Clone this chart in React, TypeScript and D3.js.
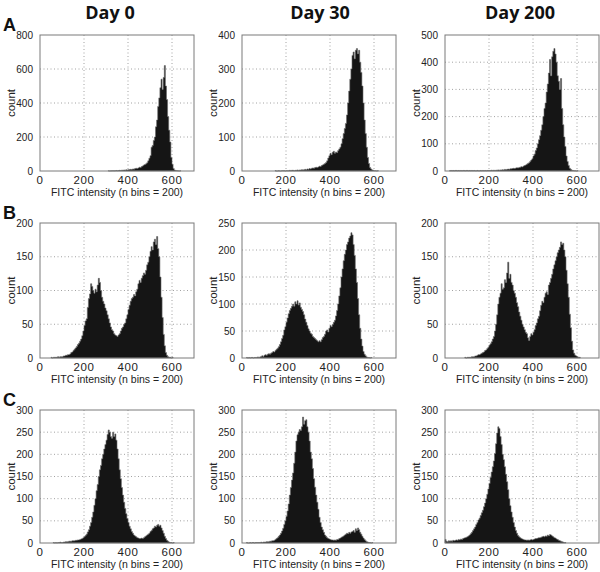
import React, { useEffect, useRef } from "react";
import * as d3 from "d3";

// column titles and row letters
const days = ["Day 0", "Day 30", "Day 200"];
const rowLetters = ["A", "B", "C"];
const xTicks = [0, 200, 400, 600];
const binWidth = 5;

// y axis maxima / tick step, per panel (row-major)
const yMax = [800, 400, 500, 200, 250, 200, 300, 300, 300];
const yStep = [200, 100, 100, 50, 50, 50, 50, 50, 50];

// histogram counts, 5-unit bins starting at *Start
const a0Start = 310;
const a0Counts = [1, 0, 1, 1, 2, 1, 2, 3, 2, 3, 4, 3, 5, 4, 6, 5, 7, 6, 8, 9,
  10, 9, 12, 11, 14, 16, 15, 18, 22, 20, 26, 30, 35, 38, 42, 48, 60, 75, 90, 140,
  150, 180, 200, 260, 300, 380, 430, 490, 540, 480, 550, 620, 500, 420, 320, 240, 170, 80, 40, 15,
  6, 3, 2, 1, 0, 1];

const a30Start = 150;
const a30Counts = [1, 0, 0, 1, 0, 0, 1, 1, 1, 0, 1, 1, 1, 2, 1, 2, 2, 1, 2, 2,
  3, 2, 3, 3, 4, 3, 4, 5, 4, 6, 5, 7, 6, 8, 9, 8, 10, 11, 10, 12,
  14, 13, 16, 18, 20, 22, 25, 30, 38, 45, 52, 48, 55, 58, 52, 56, 54, 60, 65, 70,
  80, 95, 110, 125, 140, 165, 200, 235, 270, 300, 340, 350, 330, 355, 360, 345, 355, 320, 290, 250,
  200, 150, 110, 70, 40, 22, 10, 6, 3, 2, 1, 1, 0, 1];

const a200Start = 20;
const a200Counts = [1, 2, 1, 2, 1, 2, 2, 1, 2, 1, 2, 1, 2, 2, 1, 2, 2, 1, 2, 1,
  2, 1, 2, 1, 1, 2, 1, 1, 2, 1, 2, 1, 2, 1, 2, 2, 2, 2, 3, 2,
  3, 2, 3, 3, 4, 3, 4, 4, 5, 4, 6, 5, 6, 7, 6, 8, 8, 9, 10, 9,
  11, 12, 11, 13, 14, 16, 15, 18, 20, 22, 25, 28, 30, 35, 40, 45, 55, 62, 75, 85,
  100, 115, 130, 150, 170, 200, 230, 250, 290, 320, 360, 410, 350, 420, 440, 450, 430, 400, 350, 330,
  300, 340, 230, 170, 125, 90, 55, 35, 20, 10, 6, 3, 2, 1, 1, 0, 1];

const b0Start = 50;
const b0Counts = [1, 0, 1, 1, 1, 1, 2, 1, 2, 2, 2, 3, 3, 4, 4, 5, 5, 6, 8, 9,
  11, 13, 15, 17, 20, 22, 25, 28, 33, 40, 48, 55, 58, 75, 88, 95, 110, 106, 100, 96,
  102, 98, 108, 118, 112, 100, 90, 84, 80, 74, 70, 64, 58, 52, 46, 42, 40, 36, 34, 33,
  32, 34, 36, 40, 44, 46, 50, 52, 58, 64, 72, 78, 84, 88, 90, 94, 92, 98, 102, 110,
  115, 112, 118, 122, 126, 124, 130, 138, 142, 150, 158, 165, 160, 172, 176, 168, 180, 162, 150, 120,
  90, 60, 35, 18, 8, 4, 2, 1, 1, 0, 1];

const b30Start = 20;
const b30Counts = [1, 0, 1, 0, 1, 1, 0, 1, 1, 1, 2, 1, 2, 3, 4, 3, 5, 6, 5, 7,
  8, 7, 9, 10, 12, 11, 14, 16, 18, 21, 25, 30, 36, 42, 52, 58, 66, 74, 82, 88,
  92, 96, 100, 96, 104, 100, 106, 98, 102, 94, 90, 86, 80, 72, 66, 60, 54, 50, 46, 44,
  40, 38, 36, 34, 32, 30, 32, 30, 34, 38, 40, 44, 50, 52, 48, 55, 60, 58, 62, 66,
  70, 78, 88, 100, 115, 130, 150, 165, 180, 192, 200, 210, 215, 222, 226, 232, 228, 210, 190, 165,
  140, 110, 80, 55, 35, 22, 12, 7, 4, 2, 1, 1, 0, 1];

const b200Start = 90;
const b200Counts = [1, 0, 1, 1, 1, 1, 2, 2, 2, 3, 3, 4, 5, 5, 6, 7, 8, 9, 11, 12,
  14, 16, 19, 21, 24, 28, 32, 40, 50, 64, 80, 90, 96, 110, 102, 104, 116, 112, 126, 142,
  118, 124, 112, 108, 100, 96, 90, 82, 76, 68, 62, 56, 50, 46, 42, 38, 36, 30, 26, 32,
  36, 34, 38, 42, 48, 52, 58, 62, 70, 78, 84, 82, 90, 96, 98, 94, 108, 112, 118, 124,
  132, 138, 144, 150, 156, 160, 164, 172, 168, 170, 160, 150, 130, 110, 90, 65, 45, 25, 12, 7,
  4, 3, 2, 1, 1];

const c0Start = 60;
const c0Counts = [1, 0, 1, 0, 1, 1, 2, 1, 1, 2, 2, 3, 3, 3, 4, 4, 4, 5, 5, 5,
  6, 6, 7, 7, 8, 9, 10, 12, 14, 17, 20, 25, 30, 38, 46, 58, 70, 85, 100, 118,
  132, 150, 165, 175, 190, 200, 212, 222, 232, 245, 255, 250, 240, 236, 250, 240, 246, 232, 212, 190,
  165, 145, 125, 108, 92, 78, 66, 55, 46, 38, 32, 26, 22, 18, 16, 14, 12, 11, 10, 10,
  11, 10, 12, 14, 16, 18, 20, 22, 26, 28, 32, 34, 38, 36, 40, 42, 38, 40, 34, 28,
  22, 15, 10, 6, 4, 2, 1, 1, 0, 1];

const c30Start = 20;
const c30Counts = [1, 0, 0, 1, 0, 1, 1, 0, 1, 1, 1, 1, 1, 2, 1, 2, 2, 2, 3, 3,
  3, 4, 4, 5, 5, 6, 8, 10, 12, 15, 18, 22, 27, 33, 42, 50, 60, 72, 88, 108,
  125, 142, 158, 180, 205, 230, 244, 250, 256, 254, 262, 284, 268, 276, 278, 262, 250, 230, 205, 190,
  168, 145, 126, 108, 92, 76, 58, 46, 36, 30, 24, 18, 15, 12, 10, 9, 8, 7, 7, 6,
  7, 6, 8, 8, 10, 11, 13, 14, 16, 18, 20, 22, 21, 24, 22, 25, 26, 28, 24, 32,
  28, 34, 30, 24, 20, 15, 11, 8, 5, 3, 2, 1, 1, 0, 1];

const c200Start = 0;
const c200Counts = [8, 4, 3, 5, 4, 5, 4, 6, 5, 6, 7, 6, 8, 7, 9, 8, 10, 11, 12, 13,
  14, 16, 18, 21, 24, 28, 32, 36, 42, 46, 52, 56, 62, 68, 74, 82, 90, 100, 110, 122,
  134, 148, 160, 172, 185, 202, 224, 248, 262, 258, 240, 222, 200, 188, 172, 155, 138, 120, 100, 84,
  70, 58, 46, 36, 28, 22, 17, 14, 12, 10, 9, 8, 7, 7, 6, 7, 6, 7, 8, 7,
  8, 9, 10, 10, 11, 12, 12, 13, 14, 15, 14, 16, 15, 18, 16, 19, 18, 16, 14, 12,
  11, 9, 8, 6, 5, 4, 3, 2, 1, 1];

const starts = [a0Start, a30Start, a200Start, b0Start, b30Start, b200Start, c0Start, c30Start, c200Start];
const counts = [a0Counts, a30Counts, a200Counts, b0Counts, b30Counts, b200Counts, c0Counts, c30Counts, c200Counts];

const W = 600;
const H = 572;
const colLeft = [40, 242, 445];
const plotW = 154;
const rowTop = [35, 223, 410];
const rowBottom = [171, 358, 543];
const font = "'Liberation Sans', Arial, sans-serif";

function drawChart(svgEl: SVGSVGElement) {
  const svg = d3.select(svgEl);
  svg.selectAll("*").remove();
  svg.attr("width", W).attr("height", H);

  // column titles
  days.forEach((d, i) => {
    svg.append("text")
      .attr("x", [110, 320, 520][i])
      .attr("y", 19)
      .attr("text-anchor", "middle")
      .attr("font-family", "'Open Sans', sans-serif")
      .attr("font-weight", 700)
      .attr("font-size", 18)
      .attr("fill", "#111")
      .text(d);
  });

  // row letters
  rowLetters.forEach((l, r) => {
    svg.append("text")
      .attr("x", 3)
      .attr("y", rowTop[r] - 4)
      .attr("font-family", font)
      .attr("font-weight", 700)
      .attr("font-size", 18)
      .attr("fill", "#111")
      .text(l);
  });

  for (let r = 0; r < 3; r++) {
    for (let c = 0; c < 3; c++) {
      const k = r * 3 + c;
      const left = colLeft[c];
      const top = rowTop[r];
      const bottom = rowBottom[r];

      const x = d3.scaleLinear().domain([0, 700]).range([left, left + plotW]);
      const y = d3.scaleLinear().domain([0, yMax[k]]).range([bottom, top]);
      const yTicks = d3.range(0, yMax[k] + 1, yStep[k]);

      const g = svg.append("g");

      // dotted grid
      g.selectAll(".gx")
        .data(xTicks.filter(t => t > 0))
        .join("line")
        .attr("x1", d => x(d)).attr("x2", d => x(d))
        .attr("y1", top).attr("y2", bottom)
        .attr("stroke", "#8a8a8a")
        .attr("stroke-width", 0.8)
        .attr("stroke-dasharray", "1,2.5");
      g.selectAll(".gy")
        .data(yTicks.filter(t => t > 0 && t < yMax[k]))
        .join("line")
        .attr("x1", left).attr("x2", left + plotW)
        .attr("y1", d => y(d)).attr("y2", d => y(d))
        .attr("stroke", "#8a8a8a")
        .attr("stroke-width", 0.8)
        .attr("stroke-dasharray", "1,2.5");

      // histogram as a stepped area
      const pts = counts[k].map((v, i) => ({ x: starts[k] + i * binWidth, y: v }));
      pts.push({ x: starts[k] + counts[k].length * binWidth, y: 0 });
      const area = d3.area<{ x: number; y: number }>()
        .x(d => x(d.x))
        .y0(bottom)
        .y1(d => y(d.y))
        .curve(d3.curveStepAfter);
      g.append("path")
        .datum(pts)
        .attr("d", area)
        .attr("fill", "#151515")
        .attr("stroke", "#6a6a6a")
        .attr("stroke-width", 0.6);

      // box
      g.append("rect")
        .attr("x", left).attr("y", top)
        .attr("width", plotW).attr("height", bottom - top)
        .attr("fill", "none")
        .attr("stroke", "#7a7a7a")
        .attr("stroke-width", 1);

      // y tick labels
      g.selectAll(".yl")
        .data(yTicks)
        .join("text")
        .attr("x", left - 7)
        .attr("y", d => y(d))
        .attr("dy", "0.35em")
        .attr("text-anchor", "end")
        .attr("font-family", font)
        .attr("font-size", 10)
        .attr("fill", "#222")
        .text(d => d);

      // x tick labels
      g.selectAll(".xl")
        .data(xTicks)
        .join("text")
        .attr("x", d => x(d))
        .attr("y", bottom + 13)
        .attr("text-anchor", "middle")
        .attr("font-family", font)
        .attr("font-size", 11.5)
        .attr("letter-spacing", 0.6)
        .attr("fill", "#222")
        .text(d => d);

      // axis labels
      g.append("text")
        .attr("x", left + plotW / 2)
        .attr("y", bottom + 25)
        .attr("text-anchor", "middle")
        .attr("font-family", font)
        .attr("font-size", 10.5)
        .attr("fill", "#222")
        .text("FITC intensity (n bins = 200)");
      g.append("text")
        .attr("transform", `translate(${left - 25},${(top + bottom) / 2}) rotate(-90)`)
        .attr("text-anchor", "middle")
        .attr("font-family", font)
        .attr("font-size", 11.5)
        .attr("fill", "#222")
        .text("count");
    }
  }
}

export default function App() {
  const svgRef = useRef<SVGSVGElement>(null);
  useEffect(() => {
    if (svgRef.current) drawChart(svgRef.current);
  }, []);
  return (
    <svg
      ref={svgRef}
      style={{ position: "absolute", left: 0, top: 0, display: "block", background: "#fff" }}
    />
  );
}
